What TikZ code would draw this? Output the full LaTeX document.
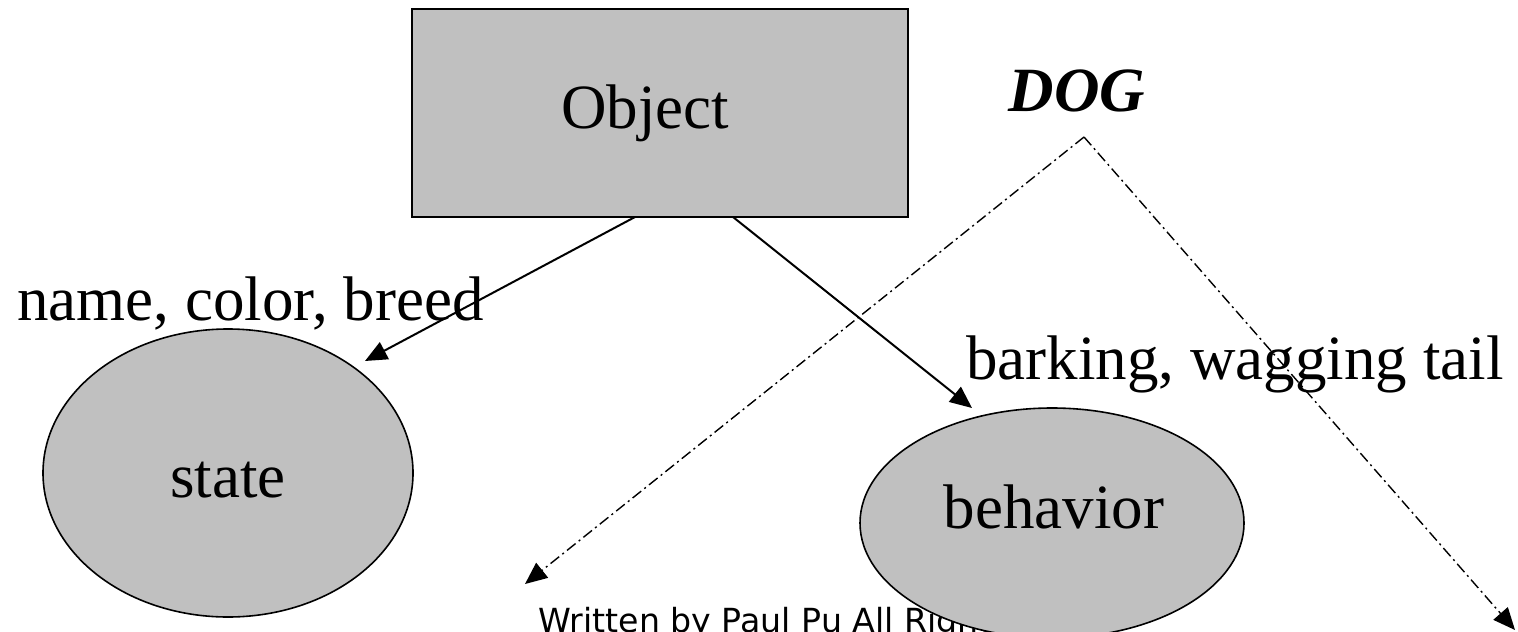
\documentclass[tikz,border=0pt]{standalone}
\usepackage{fontspec}
\setmainfont{Liberation Serif}
\newfontfamily\notefont{DejaVu Sans}
\usetikzlibrary{shapes.geometric,arrows.meta}
\definecolor{shapegray}{HTML}{C0C0C0}
\begin{document}
\begin{tikzpicture}[x=0.5pt,y=-0.5pt,
  objbox/.style={rectangle, draw=black, line width=1pt, fill=shapegray,
    minimum width=248pt, minimum height=104pt, inner sep=0pt},
  blob/.style={ellipse, draw=black, line width=0.8pt, fill=shapegray, inner sep=0pt},
  word/.style={inner sep=0pt, font=\fontsize{31.5}{36}\selectfont},
  note/.style={inner sep=0pt, font=\notefont\fontsize{16.6}{20}\selectfont},
  tip/.style={-{Triangle[length=11pt,width=9.5pt]}},
  link/.style={tip, line width=1pt},
  dogline/.style={tip, line width=0.7pt, dash pattern=on 5.5pt off 2pt on 1pt off 2pt}]
\useasboundingbox (0,0) rectangle (1518,631);

% footer, partly hidden behind the behavior ellipse
\node[note, anchor=base west] (credit) at (538,632) {Written by Paul Pu All Rights};

% shapes
\node[objbox] (obj) at (660,113) {};
\node[blob, minimum width=185pt, minimum height=144pt] (state) at (228,473) {};
\node[blob, minimum width=192pt, minimum height=115pt] (behav) at (1052,523) {};

% texts
\node[word, anchor=base] (objtxt) at (645,128) {Object};
\node[word, anchor=base] (statetxt) at (228,497) {state};
\node[word, anchor=base] (behavtxt) at (1054,528) {behavior};
\node[word, anchor=base west] (attrs) at (17,320) {name, color, breed};
\node[word, anchor=base west] (acts) at (966,379) {barking, wagging tail};
\node[word, anchor=base, font=\fontsize{31.5}{36}\selectfont\bfseries\itshape] (dog) at (1077,112) {DOG};

% connector end points
\coordinate (objL) at (635,217);
\coordinate (objR) at (733,217);
\coordinate (stateTip) at (365,361);
\coordinate (behavTip) at (972,408);
\coordinate (apex) at (1084,137);
\coordinate (leftTip) at (525,584);
\coordinate (rightTip) at (1515,630);

% connectors
\draw[link] (objL) -- (stateTip);
\draw[link] (objR) -- (behavTip);
\draw[dogline] (apex) -- (leftTip);
\draw[dogline] (apex) -- (rightTip);
\end{tikzpicture}
\end{document}
